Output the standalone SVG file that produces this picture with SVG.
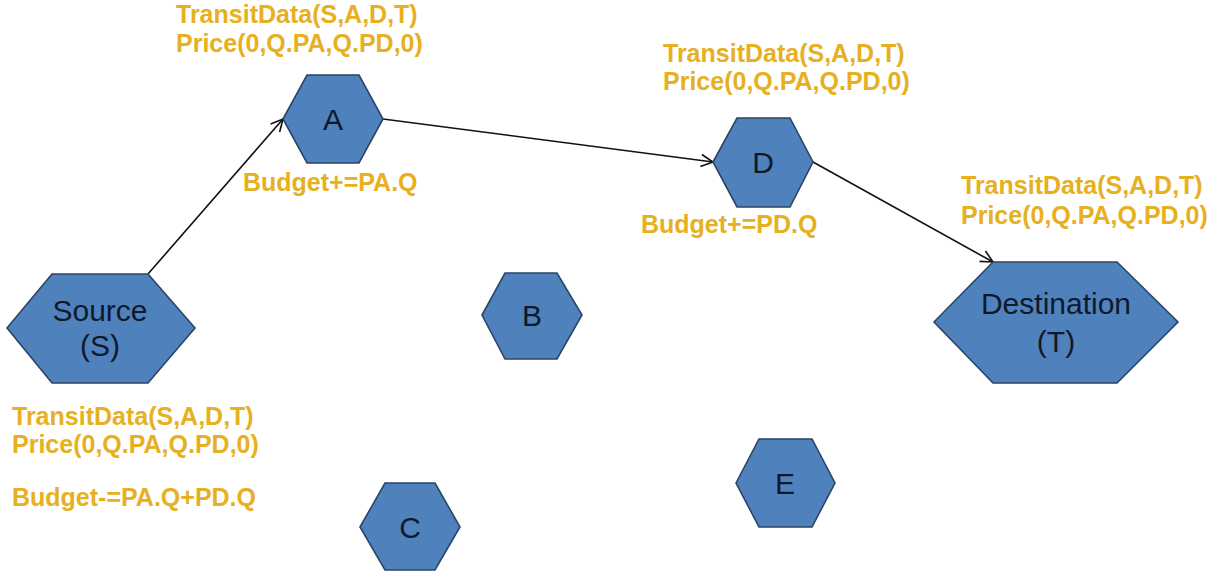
<svg xmlns="http://www.w3.org/2000/svg" width="1212" height="576" viewBox="0 0 1212 576">
  <style>
    .hex { fill: #4F81BD; stroke: #2B4468; stroke-width: 1.6; }
    .name { font-family: "Liberation Sans", Arial, sans-serif; font-size: 30px; fill: #0E1A2C; text-anchor: middle; }
    .note { font-family: "Liberation Sans", Arial, sans-serif; font-size: 25px; font-weight: bold; fill: #E6B020; }
    .edge { fill: none; stroke: #111; stroke-width: 1.6; marker-end: url(#arrow); }
  </style>
  <defs>
    <marker id="arrow" viewBox="0 0 14 14" refX="13" refY="7" markerWidth="14" markerHeight="14" markerUnits="userSpaceOnUse" orient="auto">
      <path d="M1,1 L13,7 L1,13" fill="none" stroke="#111" stroke-width="1.6"/>
    </marker>
  </defs>
  <rect width="1212" height="576" fill="#ffffff"/>

  <g id="connectors">
    <line class="edge" x1="148" y1="274" x2="283" y2="119"/>
    <line class="edge" x1="383" y1="119" x2="713" y2="162"/>
    <line class="edge" x1="813" y1="162" x2="993" y2="262"/>
  </g>

  <g id="node-S">
    <polygon class="hex" points="7,328 52,274 148,274 195,328 148,383 52,383"/>
    <text class="name" x="100" y="321">Source</text>
    <text class="name" x="100" y="356">(S)</text>
  </g>
  <g id="node-A">
    <polygon class="hex" points="283,119 307,75 359,75 383,119 359,163 307,163"/>
    <text class="name" x="333" y="130">A</text>
  </g>
  <g id="node-B">
    <polygon class="hex" points="482,315 505,273 557,273 582,315 557,359 505,359"/>
    <text class="name" x="532" y="326">B</text>
  </g>
  <g id="node-C">
    <polygon class="hex" points="360,527 385,483 435,483 460,527 435,570 385,570"/>
    <text class="name" x="410" y="538">C</text>
  </g>
  <g id="node-D">
    <polygon class="hex" points="713,162 737,118 790,118 813,162 790,207 737,207"/>
    <text class="name" x="763" y="173">D</text>
  </g>
  <g id="node-E">
    <polygon class="hex" points="736,483 759,439 812,439 835,483 812,527 759,527"/>
    <text class="name" x="785" y="494">E</text>
  </g>
  <g id="node-T">
    <polygon class="hex" points="934,322 993,262 1117,262 1178,322 1117,383 993,383"/>
    <text class="name" x="1056" y="314">Destination</text>
    <text class="name" x="1056" y="352">(T)</text>
  </g>

  <g id="notes">
    <text class="note" x="176" y="23">TransitData(S,A,D,T)</text>
    <text class="note" x="176" y="52">Price(0,Q.PA,Q.PD,0)</text>
    <text class="note" x="243" y="191">Budget+=PA.Q</text>

    <text class="note" x="663" y="62">TransitData(S,A,D,T)</text>
    <text class="note" x="663" y="90">Price(0,Q.PA,Q.PD,0)</text>
    <text class="note" x="641" y="233">Budget+=PD.Q</text>

    <text class="note" x="961" y="194">TransitData(S,A,D,T)</text>
    <text class="note" x="961" y="224">Price(0,Q.PA,Q.PD,0)</text>

    <text class="note" x="12" y="425">TransitData(S,A,D,T)</text>
    <text class="note" x="12" y="453">Price(0,Q.PA,Q.PD,0)</text>
    <text class="note" x="12" y="506">Budget-=PA.Q+PD.Q</text>
  </g>
</svg>
